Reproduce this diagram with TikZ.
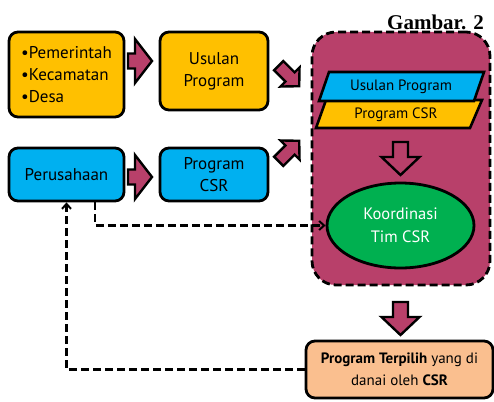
\documentclass[tikz,border=0pt]{standalone}
\usepackage{fontspec}
\setmainfont{PT Sans}
\newfontfamily\gamfont{Liberation Serif}
\usetikzlibrary{arrows.meta,shapes.geometric}
\definecolor{cyellow}{RGB}{255,192,0}
\definecolor{ccyan}{RGB}{0,176,240}
\definecolor{cmag}{RGB}{184,64,106}
\definecolor{cgreen}{RGB}{0,176,80}
\definecolor{cpeach}{RGB}{250,191,143}
\newcommand{\fatarr}[8]{%
  \draw[blockarrow,shift={(#1,#2)},rotate=#3] (#4,-#7) -- (#5,-#7) -- (#5,-#8) -- (#6,0) -- (#5,#8) -- (#5,#7) -- (#4,#7) -- cycle;}
\begin{document}
\begin{tikzpicture}[x=1pt,y=-1pt,
  box/.style={draw=black, line width=2.8pt, rounded corners=9pt, inner sep=0pt, align=center},
  blockarrow/.style={draw=black, fill=cmag, line width=2.4pt, line join=miter},
  dasharrow/.style={draw=black, line width=2.4pt, dash pattern=on 8pt off 4pt, -{Straight Barb[length=5pt,width=9pt,line width=2pt]}},
  para/.style={draw=black, line width=2.6pt, line join=miter}
]
\useasboundingbox (0,0) rectangle (494,401);

% big container
\node[draw=black, fill=cmag, line width=2.8pt, dash pattern=on 8pt off 4pt, rounded corners=24pt,
      minimum width=178pt, minimum height=253pt, inner sep=0pt] (csr) at (401,158.5) {};

% title
\node[anchor=base west, inner sep=0pt, font=\gamfont\bfseries\fontsize{21}{22}\selectfont] (gam) at (387,30) {Gambar. 2};

% left boxes
\node[box, fill=cyellow, minimum width=115pt, minimum height=85pt, align=left,
      font=\fontsize{17}{22}\selectfont] (pem) at (66.5,74.5) {•Pemerintah\\•Kecamatan\\•Desa};
\node[box, fill=cyellow, minimum width=108pt, minimum height=78pt,
      font=\fontsize{17}{22}\selectfont] (usul) at (214,71) {Usulan\\Program};
\node[box, fill=ccyan, minimum width=115pt, minimum height=53pt,
      font=\fontsize{17}{22}\selectfont] (per) at (66.5,174.5) {Perusahaan};
\node[box, fill=ccyan, minimum width=108pt, minimum height=53pt,
      font=\fontsize{17}{22}\selectfont] (pcsr) at (214,174.5) {Program\\CSR};

% parallelograms
\draw[para, fill=cyellow] (326,100) -- (482,100) -- (470,128) -- (316,128) -- cycle;
\draw[para, fill=ccyan] (329,72) -- (484,72) -- (474,101) -- (319,101) -- cycle;
\node[inner sep=0pt, font=\fontsize{15}{17}\selectfont] (pu) at (401,87) {Usulan Program};
\node[inner sep=0pt, font=\fontsize{15}{17}\selectfont] (pc) at (396,115) {Program CSR};

% ellipse
\node[ellipse, draw=black, fill=cgreen, line width=2.8pt, minimum width=147pt, minimum height=85pt,
      inner sep=0pt, align=center, text=white, font=\fontsize{16.5}{23}\selectfont] (k) at (400.5,225.5) {Koordinasi\\Tim CSR};

% bottom box
\node[box, fill=cpeach, minimum width=187pt, minimum height=57pt,
      font=\fontsize{15}{22}\selectfont] (b) at (399.5,369.5) {\textbf{Program Terpilih} yang di\\danai oleh \textbf{CSR}};

% block arrows
\fatarr{140}{61}{0}{-12}{-5}{12}{7.5}{22}
\fatarr{140}{177}{0}{-12}{-5}{12}{7.5}{22}
\fatarr{290}{77}{-45}{-16}{0}{13}{6.5}{13.5}
\fatarr{290}{150}{45}{-16}{0}{13}{6.5}{13.5}
\fatarr{400.5}{158.5}{-90}{-16.5}{-1.5}{16.5}{7.5}{19}
\fatarr{400.5}{318.5}{-90}{-16.5}{-1.5}{16.5}{7.5}{19}

% dashed connectors
\draw[dasharrow] ([xshift=28.5pt]per.south) |- (k.west);
\draw[dasharrow] (b.west) -| (per.south);
\end{tikzpicture}
\end{document}
